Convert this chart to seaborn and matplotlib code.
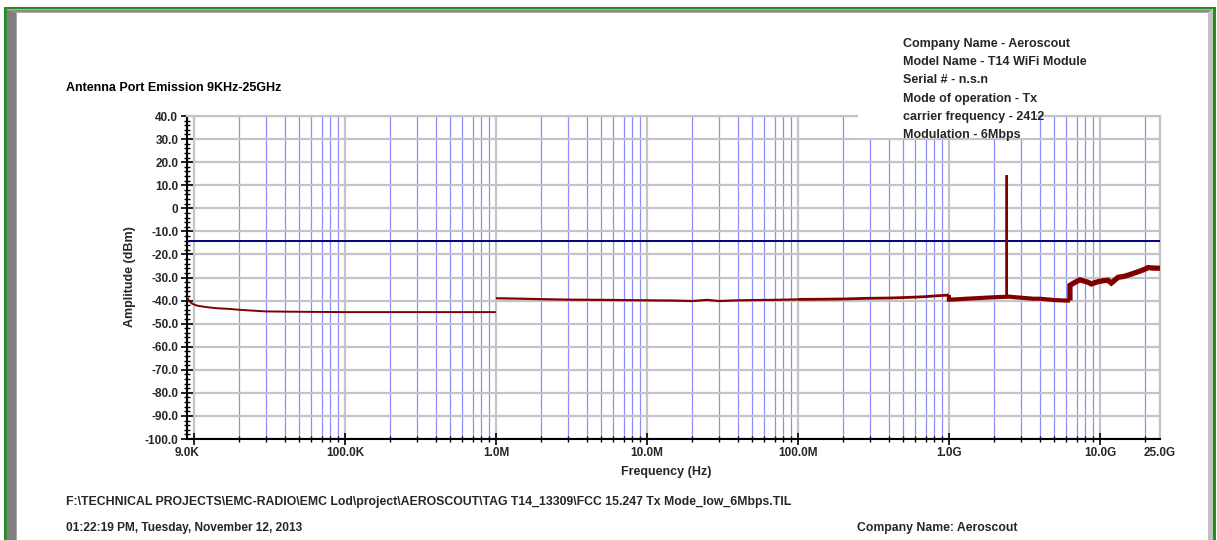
import matplotlib
matplotlib.use("Agg")
import matplotlib.pyplot as plt
import seaborn as sns
import pandas as pd
from matplotlib.ticker import FixedLocator, FixedFormatter, NullFormatter
from matplotlib.patches import Polygon, Rectangle

# ---------------- data ----------------
seg1_freq = [9.0e3, 9.3e3, 9.7e3, 1.05e4, 1.2e4, 1.4e4, 1.7e4, 2.0e4, 2.5e4,
             3.0e4, 4.0e4, 6.0e4, 1.0e5, 2.0e5, 4.0e5, 7.0e5, 1.0e6]
seg1_amp = [-38.3, -40.2, -41.3, -42.2, -42.8, -43.3, -43.6, -44.0, -44.4,
            -44.7, -44.8, -44.9, -45.0, -45.0, -45.0, -45.0, -45.0]

seg2a_freq = [1.0e6, 1.5e6, 2.0e6, 3.0e6, 5.0e6, 7.0e6, 1.0e7, 1.5e7, 2.0e7,
              2.5e7, 3.0e7, 4.0e7, 5.0e7, 7.0e7, 1.0e8]
seg2a_amp = [-39.0, -39.2, -39.4, -39.6, -39.7, -39.8, -39.9, -40.0, -40.2,
             -39.7, -40.2, -39.9, -39.8, -39.7, -39.5]

seg2b_freq = [1.0e8, 1.5e8, 2.0e8, 3.0e8, 4.0e8, 5.0e8, 6.0e8, 7.0e8, 8.0e8,
              9.0e8, 1.0e9]
seg2b_amp = [-39.5, -39.4, -39.3, -39.0, -38.9, -38.7, -38.5, -38.3, -38.0,
             -37.8, -37.6]

seg3_freq = [1.0e9, 1.0e9, 1.1e9, 1.3e9, 1.5e9, 1.8e9, 2.1e9, 2.3e9, 2.5e9, 2.8e9,
             3.2e9, 3.6e9, 4.0e9, 4.5e9, 5.0e9, 5.5e9, 6.0e9, 6.33e9]
seg3_amp = [-37.6, -39.6, -39.5, -39.2, -39.0, -38.7, -38.5, -38.4, -38.3, -38.6,
            -38.9, -39.2, -39.2, -39.5, -39.8, -39.9, -40.0, -40.0]

spike_freq = [2.402e9, 2.412e9, 2.422e9]
spike_amp = [-38.4, 14.4, -38.4]

seg4_freq = [6.33e9, 6.33e9, 6.8e9, 7.37e9, 7.9e9, 8.3e9, 8.79e9, 9.2e9, 9.75e9,
             10.5e9, 11.3e9, 11.9e9, 13.2e9, 14.5e9, 16.2e9, 17.9e9, 19.5e9,
             20.9e9, 22.5e9, 25.0e9]
seg4_amp = [-40.0, -33.4, -32.2, -31.0, -31.6, -32.0, -32.8, -32.3, -31.8,
            -31.4, -31.2, -32.4, -29.9, -29.5, -28.5, -27.5, -26.6,
            -25.7, -25.9, -26.0]

limit_db = -14.0

y_major = list(range(-100, 41, 10))
y_labels = ["-100.0", "-90.0", "-80.0", "-70.0", "-60.0", "-50.0", "-40.0",
            "-30.0", "-20.0", "-10.0", "0", "10.0", "20.0", "30.0", "40.0"]
x_major = [9e3, 1e4, 1e5, 1e6, 1e7, 1e8, 1e9, 1e10, 2.5e10]
x_labels = ["9.0K", "", "100.0K", "1.0M", "10.0M", "100.0M", "1.0G", "10.0G", "25.0G"]

title_text = "Antenna Port Emission 9KHz-25GHz"
info_lines = ["Company Name - Aeroscout", "Model Name - T14 WiFi Module",
              "Serial # - n.s.n", "Mode of operation - Tx",
              "carrier frequency - 2412", "Modulation - 6Mbps"]
path_text = ("F:\\TECHNICAL PROJECTS\\EMC-RADIO\\EMC Lod\\project\\AEROSCOUT\\"
             "TAG T14_13309\\FCC 15.247 Tx Mode_low_6Mbps.TIL")
date_text = "01:22:19 PM, Tuesday, November 12, 2013"
company_text = "Company Name: Aeroscout"

# ---------------- style ----------------
W, H = 1217, 540
sns.set_theme(style="white")
plt.rcParams['font.family'] = ['Liberation Sans', 'DejaVu Sans']
plt.rcParams['font.weight'] = 'bold'

TRACE = '#800000'
GRAY = '#c4c4c4'
BLUE = '#8c8cff'


def fx(x):
    return x / W


def fy(y):
    return 1 - y / H


fig = plt.figure(figsize=(W / 100, H / 100), dpi=100)
fig.patch.set_facecolor('white')

ax = fig.add_axes([fx(187), fy(439), (1160 - 187) / W, (439 - 116) / H])
ax.set_facecolor('white')
ax.set_xscale('log')

segments = [
    (seg1_freq, seg1_amp, 1.4),
    (seg2a_freq, seg2a_amp, 1.6),
    (seg2b_freq, seg2b_amp, 2.0),
    (seg3_freq, seg3_amp, 3.0),
    (spike_freq, spike_amp, 1.5),
    (seg4_freq, seg4_amp, 3.8),
]

lim_df = pd.DataFrame({"freq": [9e3, 25e9], "amp": [limit_db, limit_db]})
sns.lineplot(data=lim_df, x="freq", y="amp", ax=ax, color='#000080',
             linewidth=1.4, estimator=None, sort=False, zorder=3)

for fr, am, lw in segments:
    df = pd.DataFrame({"freq": fr, "amp": am})
    sns.lineplot(data=df, x="freq", y="amp", ax=ax, color=TRACE, linewidth=lw,
                 estimator=None, sort=False, zorder=4,
                 solid_capstyle='butt', solid_joinstyle='miter')

ax.set_xlim(9e3, 25e9)
ax.set_ylim(-100, 40)
ax.set_xlabel("")
ax.set_ylabel("")

x_minor = [m * 10 ** k for k in range(4, 10) for m in range(2, 10)] + [2e10]
ax.xaxis.set_major_locator(FixedLocator(x_major))
ax.xaxis.set_major_formatter(FixedFormatter(x_labels))
ax.xaxis.set_minor_locator(FixedLocator(x_minor))
ax.xaxis.set_minor_formatter(NullFormatter())

y_minor = [v for v in range(-100, 41, 2) if v % 10 != 0]
ax.yaxis.set_major_locator(FixedLocator(y_major))
ax.yaxis.set_major_formatter(FixedFormatter(y_labels))
ax.yaxis.set_minor_locator(FixedLocator(y_minor))
ax.yaxis.set_minor_formatter(NullFormatter())

ax.tick_params(which='both', bottom=True, left=True, top=False, right=False,
               direction='inout', color='black')
ax.tick_params(which='major', length=8.5, width=1.2, labelsize=8.5, pad=1.5)
ax.tick_params(axis='y', which='major', pad=2)
ax.tick_params(which='minor', length=5, width=1.0)
for lab in ax.get_xticklabels() + ax.get_yticklabels():
    lab.set_fontweight('bold')

ax.set_axisbelow(True)
ax.grid(which='major', axis='both', color=GRAY, linewidth=1.6)
ax.grid(which='minor', axis='x', color=BLUE, linewidth=0.9)
ax.grid(which='minor', axis='y', visible=False)

for side in ['left', 'bottom']:
    ax.spines[side].set_color('black')
    ax.spines[side].set_linewidth(1.5)
for side in ['top', 'right']:
    ax.spines[side].set_color(GRAY)
    ax.spines[side].set_linewidth(1.6)

mt = ax.xaxis.get_major_ticks()
mt[0].tick1line.set_visible(False)
mt[-1].tick1line.set_visible(False)

# ---------------- texts ----------------
fig.text(fx(66), fy(88), title_text, ha='left', va='center', fontsize=9,
         fontweight='bold', color='black')
fig.text(fx(130), fy(277), "Amplitude (dBm)", rotation=90, ha='center',
         va='center', fontsize=9, fontweight='bold')
fig.text(fx(666), fy(472), "Frequency (Hz)", ha='center', va='center',
         fontsize=9, fontweight='bold')

fig.add_artist(Rectangle((fx(858), fy(137.5)), (1036 - 858) / W, (137.5 - 105) / H,
                         transform=fig.transFigure, facecolor='white',
                         edgecolor='none', zorder=1))
for i, line in enumerate(info_lines):
    fig.text(fx(903), fy(44 + 18.2 * i), line, ha='left', va='center',
             fontsize=9, fontweight='bold', zorder=2)

fig.text(fx(66), fy(502), path_text, ha='left', va='center', fontsize=8.8,
         fontweight='bold')
fig.text(fx(66), fy(528), date_text, ha='left', va='center', fontsize=8.6,
         fontweight='bold')
fig.text(fx(857), fy(528), company_text, ha='left', va='center', fontsize=8.8,
         fontweight='bold')

# ---------------- window frame ----------------
def poly(pts, color):
    fig.add_artist(Polygon([(fx(x), fy(y)) for x, y in pts], closed=True,
                           transform=fig.transFigure, facecolor=color,
                           edgecolor='none', zorder=5))

poly([(4, 7), (1216, 7), (1216, 9.3), (4, 9.3)], '#1f8f1f')
poly([(4, 7), (6.7, 7), (6.7, 540), (4, 540)], '#1f8f1f')
poly([(1213, 7), (1216, 7), (1216, 540), (1213, 540)], '#1f8f1f')
poly([(6.7, 9.3), (1213, 9.3), (1208, 12.7), (16.7, 12.7)], '#8a8a8a')
poly([(6.7, 9.3), (16.7, 12.7), (16.7, 540), (6.7, 540)], '#808080')
poly([(1208, 12.7), (1213, 9.3), (1213, 540), (1208, 540)], '#c0c0c0')

fig.savefig("out.png", dpi=100)
